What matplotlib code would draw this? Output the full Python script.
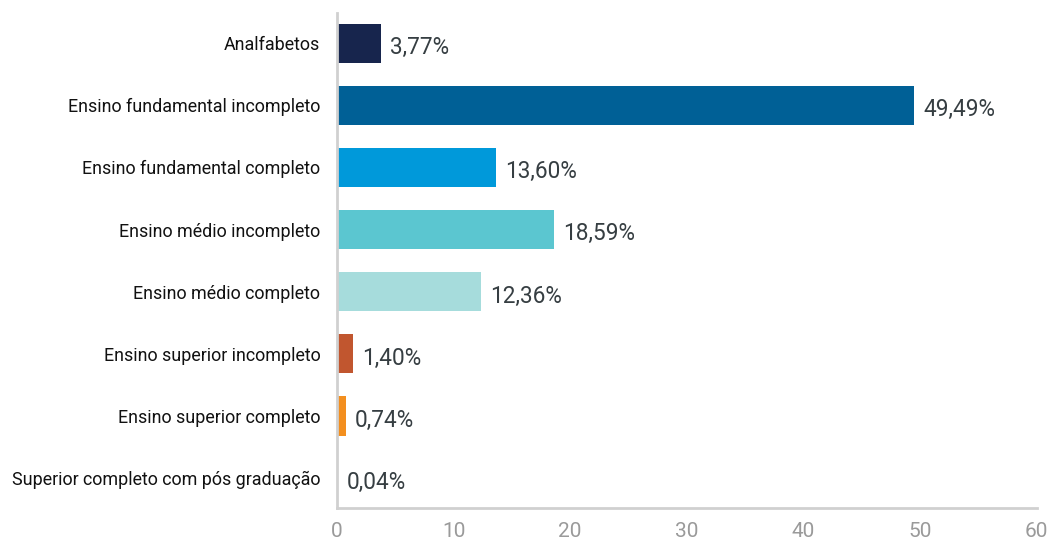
import numpy as np
import matplotlib.pyplot as plt

categories = ['Analfabetos', 'Ensino fundamental incompleto', 'Ensino fundamental completo',
              'Ensino médio incompleto', 'Ensino médio completo', 'Ensino superior incompleto',
              'Ensino superior completo', 'Superior completo com pós graduação']
values = [3.77, 49.49, 13.60, 18.59, 12.36, 1.40, 0.74, 0.04]
colors = ['#17254d', '#006096', '#0099da', '#5bc6d0', '#a6dcdc', '#c1562f', '#f38f1f', '#f5c46c']

plt.rcParams['font.family'] = ['Roboto', 'DejaVu Sans']

fig = plt.figure(figsize=(10.52, 5.43), dpi=100)
ax = fig.add_axes([0.3203, 0.0645, 0.665, 0.911])

y = np.arange(len(categories))
ax.barh(y, values, height=0.63, color=colors)
for yi, v in zip(y, values):
    ax.text(v + 0.8, yi + 0.07, f'{v:.2f}%'.replace('.', ','), va='center', ha='left',
            fontsize=16.3, color='#363e42')

ax.set_yticks(y)
ax.set_yticklabels(categories, fontsize=12.9, color='#111111')
ax.set_ylim(7.48, -0.48)
ax.set_xlim(0, 60)
ax.set_xticks(np.arange(0, 61, 10))
ax.tick_params(axis='x', labelsize=15, colors='#9a9a9a', length=0, pad=10)
ax.tick_params(axis='y', length=0, pad=12)
for s in ['top', 'right']:
    ax.spines[s].set_visible(False)
for s in ['left', 'bottom']:
    ax.spines[s].set_color('#d0d0d0')
    ax.spines[s].set_linewidth(2)

plt.savefig('out.png', dpi=100)
